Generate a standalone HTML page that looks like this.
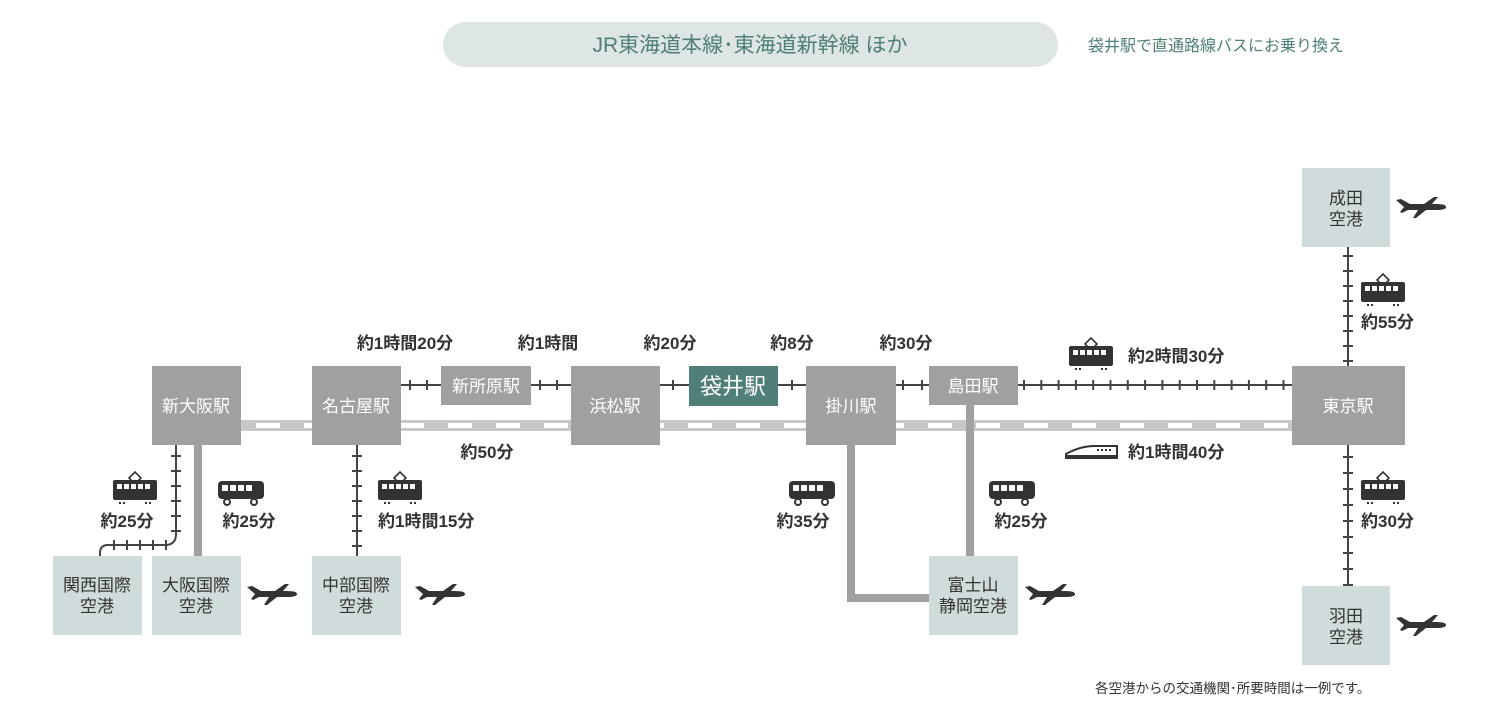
<!DOCTYPE html>
<html><head><meta charset="utf-8"><style>
body{margin:0;background:#fff;}
svg text{font-family:"Liberation Sans","Noto Sans CJK JP",sans-serif;}
.b{font-weight:bold;font-size:17px;fill:#333;}
.w{fill:#fff;font-size:17px;}
.a{fill:#333;font-size:17px;}
</style></head><body>
<svg width="1500" height="720" viewBox="0 0 1500 720" xmlns="http://www.w3.org/2000/svg">
<defs>
<g id="tram"><path d="M16 8 L22 2 L28 8 L22 14 Z" fill="none" stroke="#333" stroke-width="1.6"/><rect x="0" y="10" width="44" height="20" rx="2" fill="#333"/><g fill="#fff"><rect x="4" y="14" width="5" height="5"/><rect x="11" y="14" width="5" height="5"/><rect x="18" y="14" width="5" height="5"/><rect x="25" y="14" width="5" height="5"/><rect x="32" y="14" width="5" height="5"/></g><g fill="#333"><rect x="6" y="32" width="2" height="2"/><rect x="10" y="32" width="2" height="2"/><rect x="32" y="32" width="2" height="2"/><rect x="36" y="32" width="2" height="2"/></g></g>
<g id="bus"><rect x="0" y="0" width="46" height="18" rx="4" fill="#333"/><g fill="#fff"><rect x="4" y="4" width="6" height="6"/><rect x="12" y="4" width="6" height="6"/><rect x="20" y="4" width="6" height="6"/><rect x="28" y="4" width="6" height="6"/></g><circle cx="9" cy="21" r="3" fill="#fff" stroke="#333" stroke-width="2"/><circle cx="36" cy="21" r="3" fill="#fff" stroke="#333" stroke-width="2"/></g>
<g id="plane" fill="#333"><path d="M0 4 L5 3 L14 8 L40 8 Q50 8 50 11 Q50 14 40 14 L30 14 L20 22 L17 22 L22 14 L12 14 L6 17 L4 16 L8 11 Z"/><path d="M28 8 L38 1 L42 1 L36 8 Z"/></g>
</defs>
<rect x="443" y="22" width="615" height="45" rx="22.5" fill="#dde6e4"/>
<text x="750" y="52" text-anchor="middle" font-size="21" fill="#4f7f78">JR東海道本線･東海道新幹線 ほか</text>
<text x="1088" y="51" font-size="16" fill="#4f7f78">袋井駅で直通路線バスにお乗り換え</text>
<rect x="241" y="420" width="1051" height="11" fill="#c8c8c8"/>
<line x1="256" y1="425.5" x2="1292" y2="425.5" stroke="#fff" stroke-width="5" stroke-dasharray="24 24"/>
<g stroke="#444">
<line x1="401" y1="385" x2="441" y2="385" stroke-width="2"/><line x1="409" y1="385" x2="441" y2="385" stroke-width="10" stroke-dasharray="2 15"/>
<line x1="531" y1="385" x2="571" y2="385" stroke-width="2"/><line x1="539" y1="385" x2="571" y2="385" stroke-width="10" stroke-dasharray="2 15"/>
<line x1="660" y1="385" x2="689" y2="385" stroke-width="2"/><line x1="672" y1="385" x2="689" y2="385" stroke-width="10" stroke-dasharray="2 20"/>
<line x1="778" y1="385" x2="806" y2="385" stroke-width="2"/><line x1="791" y1="385" x2="806" y2="385" stroke-width="10" stroke-dasharray="2 20"/>
<line x1="896" y1="385" x2="929" y2="385" stroke-width="2"/><line x1="902" y1="385" x2="929" y2="385" stroke-width="10" stroke-dasharray="2 17"/>
<line x1="1018" y1="385" x2="1292" y2="385" stroke-width="2"/><line x1="1023" y1="385" x2="1292" y2="385" stroke-width="10" stroke-dasharray="2 15.3"/>
<line x1="1348" y1="247" x2="1348" y2="366" stroke-width="2"/><line x1="1348" y1="255" x2="1348" y2="366" stroke-width="10" stroke-dasharray="2 13"/>
<line x1="1348" y1="445" x2="1348" y2="586" stroke-width="2"/><line x1="1348" y1="456" x2="1348" y2="586" stroke-width="10" stroke-dasharray="2 14"/>
<line x1="357" y1="445" x2="357" y2="556" stroke-width="2"/><line x1="357" y1="455" x2="357" y2="556" stroke-width="10" stroke-dasharray="2 13"/>
<path d="M176 445 L176 534 Q176 545 165 545 L108 545 Q100 545 100 553 L100 556" fill="none" stroke-width="2"/>
<line x1="176" y1="455" x2="176" y2="535" stroke-width="10" stroke-dasharray="2 13"/>
<g stroke-width="2"><line x1="114" y1="540" x2="114" y2="550"/><line x1="127" y1="540" x2="127" y2="550"/><line x1="140" y1="540" x2="140" y2="550"/><line x1="153" y1="540" x2="153" y2="550"/><line x1="166" y1="540" x2="166" y2="550"/></g>
</g>
<g stroke="#a0a0a0" stroke-width="8" fill="none">
<line x1="198" y1="445" x2="198" y2="556"/>
<path d="M851 445 L851 598 L929 598"/>
<line x1="970" y1="405" x2="970" y2="556"/>
</g>
<g fill="#a0a0a0">
<rect x="152" y="366" width="89" height="79"/><rect x="312" y="366" width="89" height="79"/>
<rect x="441" y="366" width="90" height="39"/><rect x="571" y="366" width="89" height="79"/>
<rect x="806" y="366" width="90" height="79"/><rect x="929" y="366" width="89" height="39"/>
<rect x="1292" y="366" width="113" height="79"/>
</g>
<rect x="689" y="366" width="89" height="40" fill="#4f7f78"/>
<g class="w" text-anchor="middle">
<text x="196" y="412">新大阪駅</text><text x="356" y="412">名古屋駅</text><text x="486" y="392">新所原駅</text>
<text x="615" y="412">浜松駅</text><text x="851" y="412">掛川駅</text><text x="973" y="392">島田駅</text>
<text x="1348" y="412">東京駅</text><text x="733" y="394" font-size="22">袋井駅</text>
</g>
<g fill="#cfdcdb">
<rect x="1302" y="168" width="88" height="79"/><rect x="1302" y="586" width="88" height="79"/>
<rect x="53" y="556" width="89" height="79"/><rect x="152" y="556" width="89" height="79"/>
<rect x="312" y="556" width="89" height="79"/><rect x="929" y="556" width="89" height="79"/>
</g>
<g class="a" text-anchor="middle">
<text x="1346" y="204">成田</text><text x="1346" y="225">空港</text>
<text x="1346" y="622">羽田</text><text x="1346" y="643">空港</text>
<text x="97" y="591">関西国際</text><text x="97" y="612">空港</text>
<text x="196" y="591">大阪国際</text><text x="196" y="612">空港</text>
<text x="356" y="591">中部国際</text><text x="356" y="612">空港</text>
<text x="973" y="591">富士山</text><text x="973" y="612">静岡空港</text>
</g>
<use href="#tram" x="113" y="470"/><use href="#tram" x="378" y="470"/><use href="#tram" x="1069" y="336"/>
<use href="#tram" x="1361" y="272"/><use href="#tram" x="1361" y="470"/>
<use href="#bus" x="218" y="481"/><use href="#bus" x="789" y="481"/><use href="#bus" x="989" y="481"/>
<use href="#plane" x="247" y="583"/><use href="#plane" x="415" y="583"/><use href="#plane" x="1025" y="583"/>
<use href="#plane" x="1396" y="196"/><use href="#plane" x="1396" y="614"/>
<path d="M1066 458 L1117 458 L1117 446 L1095 446 Q1080 446 1066 454 Z" fill="none" stroke="#333" stroke-width="2"/>
<g fill="#333"><rect x="1097" y="449" width="2" height="2"/><rect x="1101" y="449" width="2" height="2"/><rect x="1105" y="449" width="2" height="2"/><rect x="1109" y="449" width="2" height="2"/><rect x="1066" y="455" width="51" height="3"/></g>
<g class="b">
<text x="405" y="349" text-anchor="middle">約1時間20分</text><text x="548" y="349" text-anchor="middle">約1時間</text>
<text x="670" y="349" text-anchor="middle">約20分</text><text x="792" y="349" text-anchor="middle">約8分</text>
<text x="906" y="349" text-anchor="middle">約30分</text><text x="1128" y="362">約2時間30分</text>
<text x="487" y="458" text-anchor="middle">約50分</text><text x="1128" y="458">約1時間40分</text>
<text x="127" y="527" text-anchor="middle">約25分</text><text x="249" y="527" text-anchor="middle">約25分</text>
<text x="378" y="527">約1時間15分</text><text x="803" y="527" text-anchor="middle">約35分</text>
<text x="1021" y="527" text-anchor="middle">約25分</text><text x="1361" y="328">約55分</text><text x="1361" y="527">約30分</text>
</g>
<text x="1095" y="693" font-size="13.5" fill="#333">各空港からの交通機関･所要時間は一例です。</text>
</svg>
</body></html>
